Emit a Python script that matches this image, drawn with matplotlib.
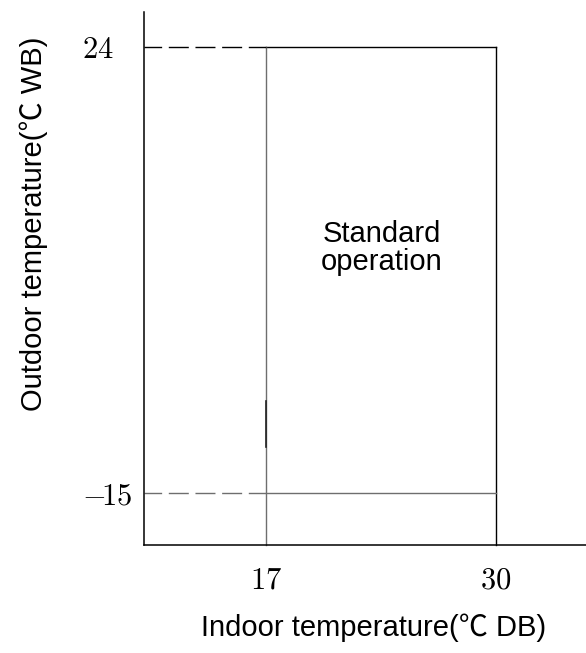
import matplotlib
matplotlib.use("Agg")
import matplotlib.pyplot as plt

plt.rcParams['mathtext.fontset'] = 'cm'

# Operating range (indoor dry bulb vs outdoor wet bulb)
indoor_range = [17, 30]
outdoor_range = [-15, 24]
x_ticks = [17, 30]
y_ticks = [24, -15]
x_tick_labels = ["$17$", "$30$"]
y_tick_labels = ["$24$", r"$-\!15$"]
mark_segment = [-7, -11]
region_label = "Standard\noperation"

x_lim = (10.1, 35.1)
y_lim = (-19.55, 27.06)

fig = plt.figure(figsize=(5.86, 6.53), dpi=100)
ax = fig.add_axes([144 / 586, 1 - 545 / 653, 442 / 586, 533 / 653])
ax.set_xlim(*x_lim)
ax.set_ylim(*y_lim)

for side in ("top", "right"):
    ax.spines[side].set_visible(False)
for side in ("left", "bottom"):
    ax.spines[side].set_linewidth(1.1)
    ax.spines[side].set_color("black")

x0, x1 = indoor_range
ylo, yhi = outdoor_range
grey = "#6e6e6e"

# Region boundaries
ax.plot([x0, x1], [yhi, yhi], color="black", lw=1.0, clip_on=False)
ax.plot([x1, x1], [yhi, y_lim[0]], color="black", lw=1.0, clip_on=False)
ax.plot([x0, x0], [yhi, y_lim[0]], color=grey, lw=1.0, clip_on=False)
ax.plot([x0, x1], [ylo, ylo], color=grey, lw=1.0)
ax.plot([x0, x0], mark_segment, color="#222222", lw=1.2)

# Dashed leaders from the y axis
dash = (1.7, (14.4, 4.8))
ax.plot([x_lim[0], x0], [yhi, yhi], color="black", lw=1.0, linestyle=dash)
ax.plot([x_lim[0], x0], [ylo, ylo], color=grey, lw=1.0, linestyle=dash)

ax.text((x0 + x1) / 2 + 0.05, 24 - (248 - 47) / 11.436, region_label,
        ha="center", va="center", fontsize=21,
        family=["Liberation Sans", "DejaVu Sans"], linespacing=0.98)

ax.set_xticks(x_ticks)
ax.set_xticklabels(x_tick_labels, fontsize=22)
ax.set_yticks(y_ticks)
ax.set_yticklabels(y_tick_labels, fontsize=22)
ax.tick_params(axis="both", length=0)
ax.tick_params(axis="x", pad=15)
ax.tick_params(axis="y", pad=45)
for lbl in ax.get_yticklabels():
    lbl.set_horizontalalignment("left")

label_font = ["Liberation Sans", "Noto Sans CJK SC", "DejaVu Sans"]
ax.set_xlabel("Indoor temperature(℃ DB)", fontsize=21, family=label_font)
ax.set_ylabel("Outdoor temperature(℃ WB)", fontsize=21, family=label_font)
ax.xaxis.label.set_verticalalignment("center")
ax.yaxis.label.set_verticalalignment("center")
ax.xaxis.set_label_coords((374 - 144) / 442, -(628 - 545) / 533)
ax.yaxis.set_label_coords(-(144 - 34) / 442, (545 - 224) / 533)

fig.savefig("out.png", dpi=100)
